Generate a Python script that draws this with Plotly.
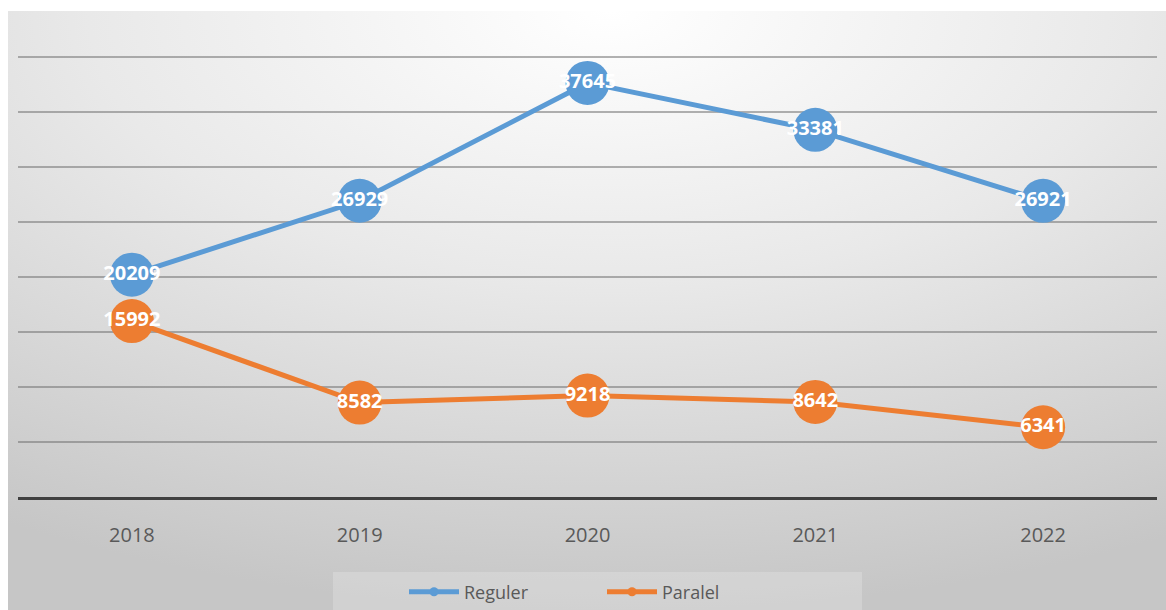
import base64
import plotly.graph_objects as go

# Student counts per year
years = ["2018", "2019", "2020", "2021", "2022"]
reguler = [20209, 26929, 37645, 33381, 26921]
paralel = [15992, 8582, 9218, 8642, 6341]

BLUE = "#5b9bd5"
ORANGE = "#ed7d31"
FONT = "Open Sans"

W, H = 1166, 610
ML, MR, MT, MB = 18, 9, 55, 113
PW, PH = W - ML - MR, H - MT - MB
Y_TOP = 40000 * (PH) / (PH - 2)  # keep the 40000 gridline just inside the plot

# Soft radial backdrop, bright at top centre
svg = (
    '<svg xmlns="http://www.w3.org/2000/svg" width="1158" height="600" '
    'preserveAspectRatio="none">'
    '<defs><radialGradient id="g" cx="0.52" cy="0.0" r="1.0" '
    'gradientUnits="objectBoundingBox">'
    '<stop offset="0" stop-color="#ffffff"/>'
    '<stop offset="0.45" stop-color="#e9e9e9"/>'
    '<stop offset="1" stop-color="#c6c6c6"/>'
    '</radialGradient></defs>'
    '<rect width="1158" height="600" fill="url(#g)"/></svg>'
)
bg_uri = "data:image/svg+xml;base64," + base64.b64encode(svg.encode()).decode()


def px_x(x):
    return (x - ML) / PW


def px_y(y):
    return (H - MB - y) / PH


fig = go.Figure()

for name, vals, color in [("Reguler", reguler, BLUE), ("Paralel", paralel, ORANGE)]:
    fig.add_trace(go.Scatter(
        x=years, y=vals, name=name, mode="lines+markers+text",
        line=dict(color=color, width=5),
        marker=dict(color=color, size=44),
        text=[str(v) for v in vals], textposition="middle center",
        textfont=dict(family=FONT, size=20, color="white", weight="bold"),
        cliponaxis=False, showlegend=False, hoverinfo="skip",
    ))
    # legend entry with a small marker
    fig.add_trace(go.Scatter(
        x=[None], y=[None], name=name, mode="lines+markers",
        line=dict(color=color, width=5),
        marker=dict(color=color, size=9),
        showlegend=True,
    ))

fig.update_layout(
    width=W, height=H,
    margin=dict(l=ML, r=MR, t=MT, b=MB, autoexpand=False),
    paper_bgcolor="white",
    plot_bgcolor="rgba(0,0,0,0)",
    font=dict(family=FONT, color="#595959"),
    images=[dict(
        source=bg_uri, xref="paper", yref="paper",
        x=px_x(8), y=px_y(11), sizex=1158 / PW, sizey=600 / PH,
        xanchor="left", yanchor="top", sizing="stretch", layer="below",
    )],
    shapes=[dict(
        type="rect", xref="paper", yref="paper",
        x0=px_x(333), x1=px_x(862), y0=px_y(572), y1=px_y(615),
        fillcolor="rgba(255,255,255,0.2)", line=dict(width=0), layer="below",
    )],
    xaxis=dict(
        type="category", range=[-0.5, 4.5],
        showgrid=False, zeroline=False,
        showline=True, linecolor="#404040", linewidth=3,
        ticks="outside", ticklen=18, tickcolor="rgba(0,0,0,0)",
        tickfont=dict(family=FONT, size=20, color="#595959"),
    ),
    yaxis=dict(
        range=[0, Y_TOP], tick0=0, dtick=5000,
        showgrid=True, gridcolor="rgba(115,115,115,0.55)", gridwidth=1.5,
        zeroline=False, showticklabels=False, showline=False,
    ),
    legend=dict(
        orientation="h", xref="paper", yref="paper",
        x=px_x(404), y=px_y(592), xanchor="left", yanchor="middle",
        bgcolor="rgba(0,0,0,0)",
        font=dict(family=FONT, size=18, color="#595959"),
        entrywidth=133, itemwidth=50,
    ),
)

fig.write_html("out.html")
